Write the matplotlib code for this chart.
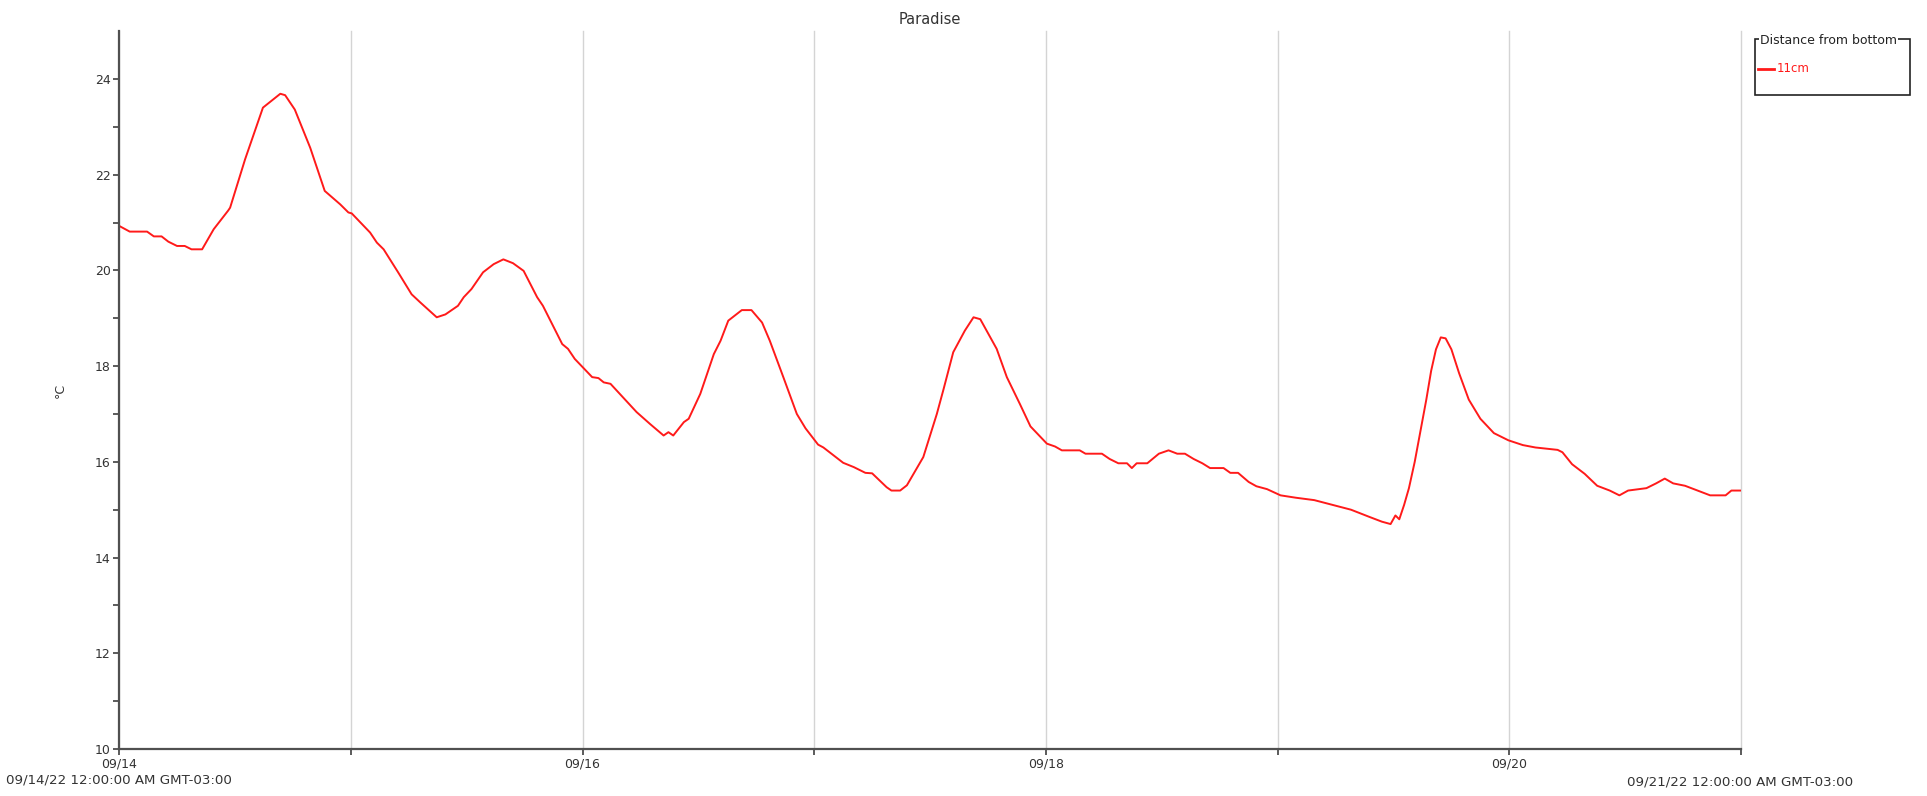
import numpy as np
import pandas as pd
import matplotlib
matplotlib.use("Agg")
import matplotlib.pyplot as plt
import matplotlib.dates as mdates
from matplotlib.patches import Rectangle
from matplotlib.lines import Line2D

# hours since 09/14/22 00:00 and water temperature (°C) at 11 cm
hours = [0.0, 1.1, 2.9, 3.6, 4.4, 5.1, 6.0, 6.8, 7.5, 8.6, 9.8, 11.3, 11.5, 13.05, 14.9,
         16.7, 17.2, 18.2, 19.8, 21.3, 22.9, 23.75, 24.1, 26.0, 26.7, 27.4, 28.9, 30.3,
         31.2, 32.9, 33.8, 35.1, 35.7, 36.5, 37.7, 38.8, 39.8, 40.8, 41.9, 43.3, 43.9,
         45.9, 46.5, 47.2, 49.0, 49.65, 50.2, 50.9, 53.6, 55.0, 56.4, 56.9, 57.4, 58.5,
         59.0, 60.2, 61.6, 62.3, 63.1, 64.5, 65.5, 66.6, 67.4, 68.8, 70.2, 71.1, 72.4,
         72.95, 75.0, 76.1, 77.3, 78.0, 79.5, 80.0, 80.9, 81.6, 83.3, 84.7, 85.4, 86.4,
         87.6, 88.5, 89.2, 90.9, 91.95, 93.3, 94.4, 96.1, 96.95, 97.65, 99.5, 100.1,
         101.8, 102.6, 103.5, 104.4, 104.9, 105.4, 106.5, 107.7, 108.7, 109.6, 110.4,
         111.3, 112.2, 113.0, 114.4, 115.1, 115.9, 117.0, 117.8, 118.9, 120.3, 121.9,
         123.8, 125.7, 127.6, 129.5, 130.8, 131.7, 132.2, 132.6, 133.1, 133.6, 134.2,
         134.8, 135.4, 135.9, 136.4, 136.9, 137.4, 138.0, 138.8, 139.8, 141.0, 142.4,
         143.9, 145.4, 146.7, 149.0, 149.5, 150.5, 151.8, 153.1, 154.4, 155.4, 156.3,
         158.2, 159.2, 160.1, 160.97, 162.2, 163.5, 164.8, 166.4, 167.0, 168.0]
temps = [20.93, 20.81, 20.81, 20.71, 20.71, 20.60, 20.51, 20.51, 20.44, 20.44, 20.86, 21.25,
         21.31, 22.32, 23.40, 23.69, 23.66, 23.36, 22.56, 21.66, 21.38, 21.21, 21.19, 20.79,
         20.58, 20.44, 19.96, 19.50, 19.33, 19.02, 19.08, 19.26, 19.44, 19.61, 19.96, 20.13,
         20.23, 20.15, 19.99, 19.44, 19.26, 18.46, 18.36, 18.15, 17.77, 17.75, 17.66, 17.63,
         17.04, 16.79, 16.55, 16.62, 16.55, 16.83, 16.90, 17.42, 18.25, 18.53, 18.95, 19.17,
         19.17, 18.91, 18.53, 17.77, 17.00, 16.70, 16.36, 16.30, 15.98, 15.89, 15.77, 15.76,
         15.47, 15.40, 15.40, 15.51, 16.10, 17.00, 17.52, 18.29, 18.74, 19.02, 18.98, 18.36,
         17.77, 17.21, 16.74, 16.38, 16.32, 16.24, 16.24, 16.17, 16.17, 16.06, 15.97, 15.97,
         15.87, 15.97, 15.97, 16.17, 16.24, 16.17, 16.17, 16.06, 15.97, 15.87, 15.87, 15.77,
         15.77, 15.58, 15.49, 15.43, 15.30, 15.25, 15.20, 15.10, 15.00, 14.85, 14.75, 14.70,
         14.88, 14.80, 15.10, 15.45, 16.00, 16.65, 17.30, 17.90, 18.35, 18.60, 18.58, 18.35,
         17.85, 17.30, 16.90, 16.60, 16.45, 16.35, 16.30, 16.25, 16.20, 15.95, 15.75, 15.50,
         15.40, 15.30, 15.40, 15.45, 15.55, 15.65, 15.55, 15.50, 15.40, 15.30, 15.30, 15.40,
         15.40]

start = pd.Timestamp("2022-09-14")
end = pd.Timestamp("2022-09-21")
times = start + pd.to_timedelta(hours, unit="h")

fig = plt.figure(figsize=(19.27, 7.96), dpi=100)
ax = fig.add_axes([0.0618, 0.059, 0.8417, 0.902])

ax.plot(times, temps, color="#ff1a1a", lw=1.4)

ax.set_xlim(start, end)
ax.set_ylim(10, 25)

# axes look
for s in ["top", "right"]:
    ax.spines[s].set_visible(False)
for s in ["left", "bottom"]:
    ax.spines[s].set_color("#505050")
    ax.spines[s].set_linewidth(1.6)

ax.xaxis.set_major_locator(mdates.DayLocator())
ax.xaxis.set_major_formatter(plt.FuncFormatter(
    lambda v, p: mdates.num2date(v).strftime("%m/%d") if mdates.num2date(v).day % 2 == 0 else ""))
ax.grid(axis="x", color="#d4d4d4", lw=1.0, clip_on=False)
ax.set_yticks(np.arange(10, 25, 2))
ax.set_yticks(np.arange(11, 25, 2), minor=True)
ax.tick_params(axis="both", which="both", direction="out", length=4, width=1.2,
               color="#404040", labelsize=9, labelcolor="#333333", pad=2)

ax.set_title("Paradise", fontsize=10.5, color="#333333", pad=5)
ax.set_ylabel("°C", fontsize=9, color="#333333", labelpad=20)

fig.text(0.003, 0.0195, "09/14/22 12:00:00 AM GMT-03:00", fontsize=9.6, color="#333333",
         ha="left", va="center")
fig.text(0.903, 0.0175, "09/21/22 12:00:00 AM GMT-03:00", fontsize=9.6, color="#333333",
         ha="center", va="center")

# legend drawn as a titled box
W, H = 1927, 796
fig.add_artist(Rectangle((1755 / W, 1 - 95 / H), 155 / W, 56 / H, transform=fig.transFigure,
                         fill=False, edgecolor="#222222", lw=1.2))
fig.text(1760 / W, 1 - 41 / H, "Distance from bottom", fontsize=9, color="#222222",
         ha="left", va="center", bbox=dict(facecolor="white", edgecolor="none", pad=0.5))
fig.add_artist(Line2D([1758 / W, 1774 / W], [1 - 69 / H, 1 - 69 / H], transform=fig.transFigure,
                      color="#ff1a1a", lw=2))
fig.text(1777 / W, 1 - 69 / H, "11cm", fontsize=8.5, color="#ff1a1a", ha="left", va="center")

fig.savefig("out.png", dpi=100, facecolor="white")
